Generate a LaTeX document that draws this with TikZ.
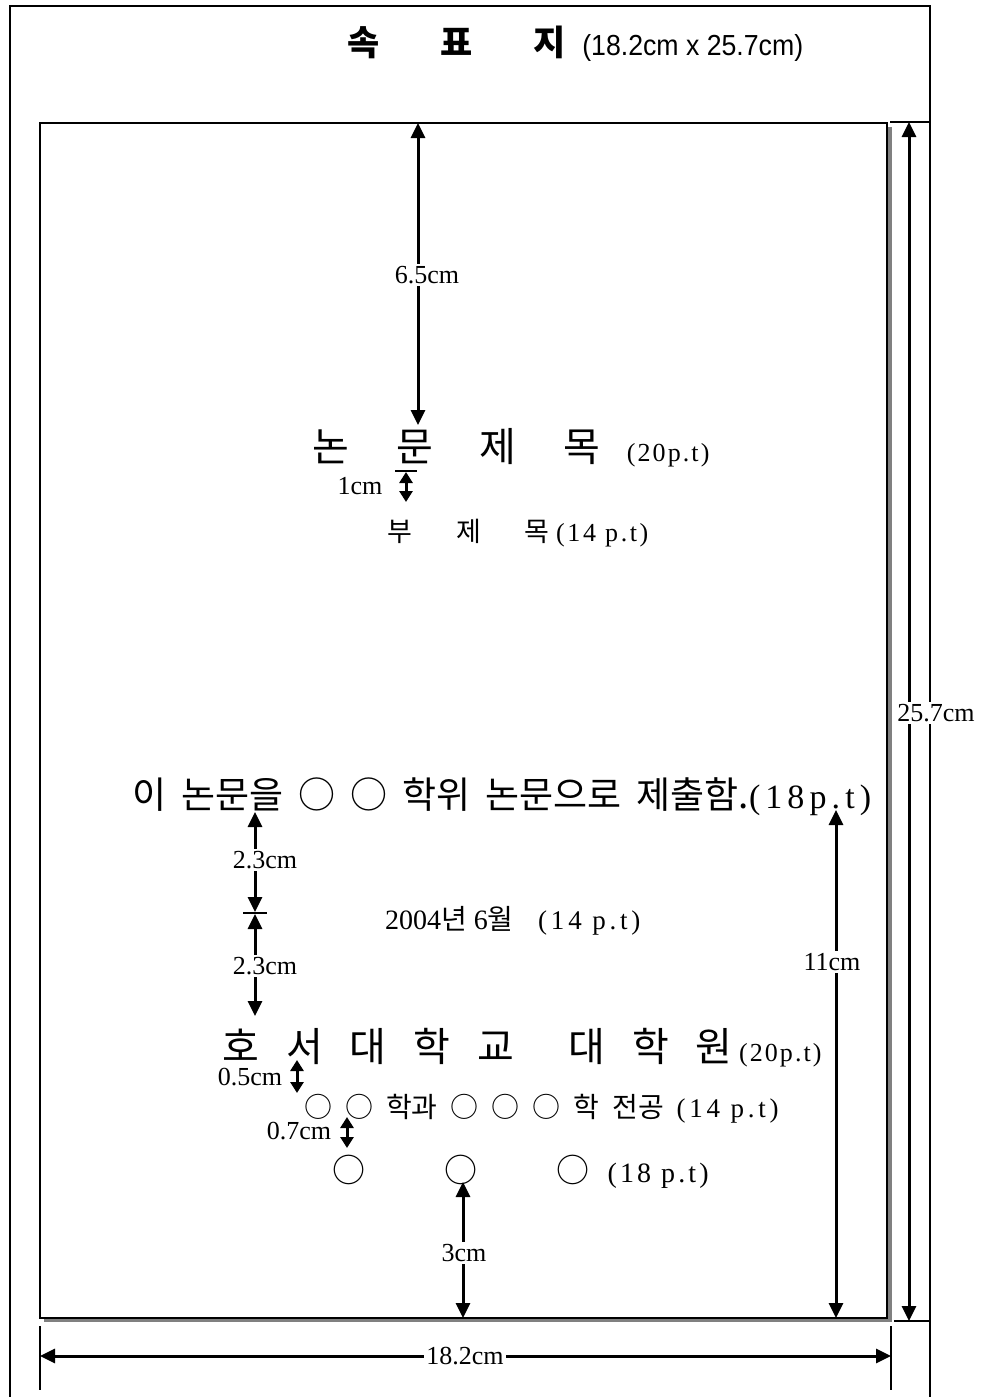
\documentclass[tikz,border=0pt]{standalone}
\usepackage{fontspec}
\setmainfont{Liberation Serif}
\newfontfamily\kr{Noto Sans CJK KR}
\newfontfamily\bt{Liberation Serif}
\newfontfamily\narrow[FakeStretch=0.92]{Liberation Sans}
\usetikzlibrary{arrows.meta}
\newcommand\setfs[1]{\fontsize{#1}{#1}\selectfont}
\newcommand\ptx[3]{{\bt\setfs{#1}\addfontfeatures{LetterSpace=#2}#3}}
\tikzset{
  dim/.style={line width=3pt,{Triangle[length=15pt,width=14pt]}-{Triangle[length=15pt,width=14pt]}},
  dimsmall/.style={line width=3pt,{Triangle[length=11pt,width=13pt]}-{Triangle[length=11pt,width=13pt]}},
  extl/.style={line width=1.8pt},
  lab/.style={fill=white,inner sep=2pt,font=\setfs{26}},
  txt/.style={anchor=base west,inner sep=0pt}
}
\begin{document}
\begin{tikzpicture}[x=1pt,y=-1pt]
\useasboundingbox (0,0) rectangle (984,1397);
% outer frame
\draw[line width=2pt] (10,1397) -- (10,6) -- (930,6) -- (930,1397);
% page with shadow
\fill[black!50] (44,127) rectangle (892,1322);
\draw[fill=white,line width=1.6pt] (40,123) rectangle (887,1318);

% texts
\node[txt] (t0) at (347,56) {{\kr\bfseries\setfs{35}\spaceskip=61pt 속 표 지} \hspace{14pt}{\narrow\setfs{29}(18.2cm x 25.7cm)}};
\node[txt] (t1) at (312,461) {{\kr\setfs{40}\spaceskip=47pt 논 문 제 목} \hspace{24pt}\ptx{26}{8}{(20p.t)}};
\node[txt] (t2) at (387,541) {{\kr\setfs{27}\spaceskip=44pt 부 제 목} \hspace{4pt}\ptx{26}{10}{(14 p.t)}};
\node[txt] (t3) at (132,808) {{\kr\setfs{37}\spaceskip=15pt 이 논문을 ○ ○ 학위 논문으로 제출함.}\ptx{34}{15}{(18p.t)}};
\node[txt] (t4) at (385,929) {{\setfs{28}2004{\kr 년} 6{\kr 월}} \hspace{22pt}\ptx{27}{14}{(14 p.t)}};
\node[txt] (t5) at (222,1061) {{\kr\setfs{40}\spaceskip=27pt 호 서 대 학 교\ \ 대 학 원} \hspace{4pt}\ptx{26}{8}{(20p.t)}};
\node[txt] (t6) at (304,1117) {{\kr\setfs{28}\spaceskip=13pt ○ ○ 학과 ○ ○ ○ 학 전공} \hspace{10pt}\ptx{27}{14}{(14 p.t)}};
\node[txt] (t7) at (332,1182) {{\kr\setfs{33}\spaceskip=79pt ○ ○ ○} \hspace{16pt}\ptx{28}{11}{(18 p.t)}};

% coordinates
\coordinate (a65t) at (418,123);  \coordinate (a65b) at (418,425);
\coordinate (c1a) at (395,471);   \coordinate (c1b) at (417,471);
\coordinate (a1t) at (406,472);   \coordinate (a1b) at (406,502);
\coordinate (a23t) at (255,812);  \coordinate (a23m) at (255,912);
\coordinate (a23n) at (255,914);  \coordinate (a23b) at (255,1016);
\coordinate (tk1) at (243,913);   \coordinate (tk2) at (267,913);
\coordinate (a11t) at (836,810);  \coordinate (a11b) at (836,1318);
\coordinate (a05t) at (297,1060); \coordinate (a05b) at (297,1093);
\coordinate (a07t) at (347,1117); \coordinate (a07b) at (347,1148);
\coordinate (a3t) at (463,1182);  \coordinate (a3b) at (463,1318);
\coordinate (e1a) at (40,1326);   \coordinate (e1b) at (40,1390);
\coordinate (e2a) at (891,1326);  \coordinate (e2b) at (891,1390);
\coordinate (a18l) at (40,1356);  \coordinate (a18r) at (891,1356);
\coordinate (e3a) at (890,122);   \coordinate (e3b) at (929,122);
\coordinate (e4a) at (894,1321);  \coordinate (e4b) at (929,1321);
\coordinate (a25t) at (909,122);  \coordinate (a25b) at (909,1321);

% extension lines
\draw[extl] (c1a) -- (c1b);
\draw[extl] (tk1) -- (tk2);
\draw[extl] (e1a) -- (e1b);
\draw[extl] (e2a) -- (e2b);
\draw[extl] (e3a) -- (e3b);
\draw[extl] (e4a) -- (e4b);

% dimension arrows
\draw[dim] (a65t) -- (a65b);
\draw[dimsmall] (a1t) -- (a1b);
\draw[dim] (a23t) -- (a23m);
\draw[dim] (a23n) -- (a23b);
\draw[dim] (a11t) -- (a11b);
\draw[dimsmall] (a05t) -- (a05b);
\draw[dimsmall] (a07t) -- (a07b);
\draw[dim] (a3t) -- (a3b);
\draw[dim] (a18l) -- (a18r);
\draw[dim] (a25t) -- (a25b);

% labels
\node[lab] (l65) at (427,275) {6.5cm};
\node[lab,fill=none] (l1) at (360,486) {1cm};
\node[lab] (l23a) at (265,860) {2.3cm};
\node[lab] (l23b) at (265,966) {2.3cm};
\node[lab] (l11) at (832,962) {11cm};
\node[lab,fill=none] (l05) at (250,1077) {0.5cm};
\node[lab,fill=none] (l07) at (299,1131) {0.7cm};
\node[lab] (l3) at (464,1253) {3cm};
\node[lab] (l18) at (465,1356) {18.2cm};
\node[lab] (l25) at (936,713) {25.7cm};
\end{tikzpicture}
\end{document}
